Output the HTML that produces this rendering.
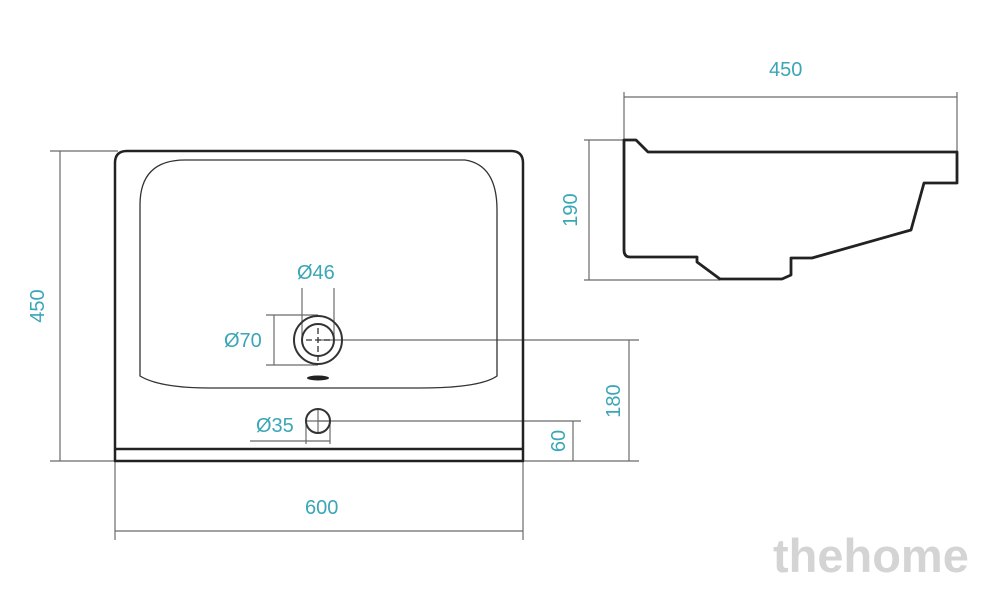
<!DOCTYPE html>
<html><head><meta charset="utf-8"><style>
html,body{margin:0;padding:0;background:#fff;}
svg{display:block;}
text{font-family:"Liberation Sans",sans-serif;fill:#3aa6b6;font-size:20px;}
</style></head><body>
<svg width="1000" height="597" viewBox="0 0 1000 597">
<g fill="none" stroke="#6a6a6a" stroke-width="1.2">
<line x1="50" y1="151" x2="118" y2="151"/>
<line x1="50" y1="461" x2="118" y2="461"/>
<line x1="60" y1="151" x2="60" y2="461"/>
<line x1="115" y1="461" x2="115" y2="540"/>
<line x1="523" y1="461" x2="523" y2="540"/>
<line x1="115" y1="531" x2="523" y2="531"/>
<line x1="318" y1="340" x2="639" y2="340"/>
<line x1="523" y1="461" x2="639" y2="461"/>
<line x1="629" y1="340" x2="629" y2="461"/>
<line x1="318" y1="421" x2="581" y2="421"/>
<line x1="573" y1="421" x2="573" y2="461"/>
<line x1="302" y1="288" x2="302" y2="340"/>
<line x1="334" y1="288" x2="334" y2="340"/>
<line x1="266" y1="315" x2="318" y2="315"/>
<line x1="266" y1="365" x2="318" y2="365"/>
<line x1="274" y1="315" x2="274" y2="365"/>
<line x1="250" y1="441" x2="330" y2="441"/>
<line x1="306" y1="421" x2="306" y2="444"/>
<line x1="330" y1="421" x2="330" y2="444"/>
<line x1="307" y1="421" x2="329" y2="421"/>
<line x1="318" y1="409" x2="318" y2="433"/>
<line x1="624" y1="92" x2="624" y2="140"/>
<line x1="957" y1="92" x2="957" y2="152"/>
<line x1="624" y1="97" x2="957" y2="97"/>
<line x1="584" y1="140" x2="626" y2="140"/>
<line x1="584" y1="280" x2="720" y2="280"/>
<line x1="589" y1="140" x2="589" y2="280"/>
</g>
<g fill="none" stroke="#222" stroke-width="2.5" stroke-linejoin="round">
<path d="M115,461 L115,163 Q115,151 127,151 L511,151 Q523,151 523,163 L523,461 Z"/>
<line x1="115" y1="449" x2="523" y2="449"/>
<path d="M624,140 L636,140 L648,152 L957,152 L957,183 L924,183 L911,230 L812,258 L791,258 L791,275 L782,279 L720,279 L697,262 L697,257 L630,257 Q624,257 624,250 Z" stroke-width="2.8"/>
</g>
<g fill="none" stroke="#333" stroke-width="1.3">
<path d="M140,376 L140,205 Q140,160 185,160 L465,160 Q497,165 497,210 L497,376 Q480,388 420,388 L210,388 Q160,388 140,376 Z"/>
<circle cx="318" cy="340" r="24" stroke-width="2"/>
<circle cx="318" cy="340" r="16" stroke-width="2"/>
<circle cx="318" cy="421" r="12" stroke-width="2"/>
<line x1="318" y1="328" x2="318" y2="364" stroke-dasharray="6,3"/>
<line x1="306" y1="340" x2="330" y2="340" stroke-dasharray="6,3"/>
</g>
<ellipse cx="318" cy="378" rx="11" ry="2.5" fill="#222"/>
<text x="297" y="279">Ø46</text>
<text x="224" y="347">Ø70</text>
<text x="256" y="432">Ø35</text>
<text x="305" y="514">600</text>
<text x="769" y="76">450</text>
<text transform="translate(44,306) rotate(-90)" text-anchor="middle">450</text>
<text transform="translate(577,210) rotate(-90)" text-anchor="middle">190</text>
<text transform="translate(620,401) rotate(-90)" text-anchor="middle">180</text>
<text transform="translate(565,441) rotate(-90)" text-anchor="middle">60</text>
<text x="773" y="572" style="font-size:47px;font-weight:bold;fill:#d4d4d4;">thehome</text>
</svg>
</body></html>
